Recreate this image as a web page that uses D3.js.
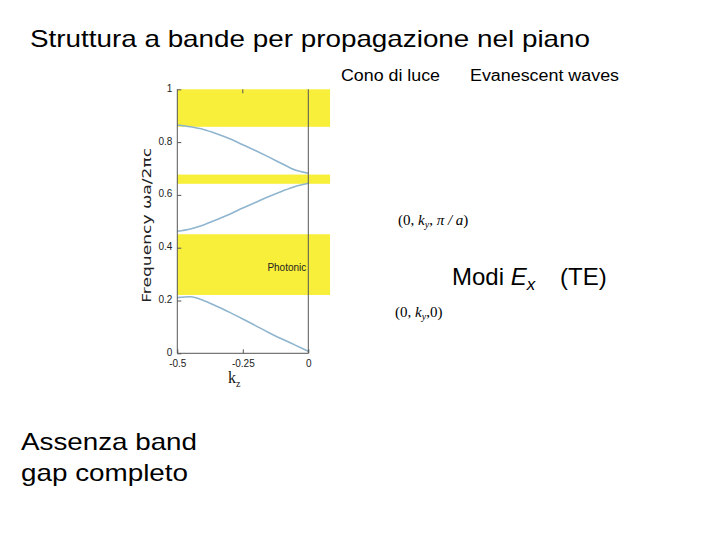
<!DOCTYPE html>
<html><head><meta charset="utf-8">
<script src="https://cdn.jsdelivr.net/npm/d3@7"></script>
<style>body{margin:0;background:#fff}svg{display:block}</style>
</head><body>
<svg id="c" width="720" height="540"></svg>
<script>
// ---- data ----
const kz = [-0.5,-0.45,-0.4,-0.35,-0.3,-0.25,-0.2,-0.15,-0.1,-0.05,0];
const band1 = [0.211,0.214,0.200,0.178,0.155,0.130,0.104,0.078,0.054,0.031,0.008];
const band2 = [0.462,0.471,0.486,0.506,0.527,0.550,0.572,0.594,0.614,0.632,0.644];
const band3 = [0.865,0.858,0.848,0.832,0.813,0.790,0.767,0.743,0.718,0.694,0.682];
const gapLow = [0.858,0.642,0.221];
const gapHigh = [1.0,0.677,0.451];
const gapKEnd = 0.083;
const yTicks = [0,0.2,0.4,0.6,0.8,1];
const yTickLabels = ["0","0.2","0.4","0.6","0.8","1"];
const xTicks = [-0.5,-0.25,0];
const xTickLabels = ["-0.5","-0.25","0"];

const svg = d3.select("#c");
const x = d3.scaleLinear().domain([-0.5,0]).range([177.3,308.3]);
const y = d3.scaleLinear().domain([0,1]).range([353.3,89.3]);

// yellow regions
svg.selectAll("rect.gap").data(gapLow).join("rect")
  .attr("class","gap")
  .attr("x", x(-0.5)).attr("width", x(gapKEnd)-x(-0.5))
  .attr("y",(d,i)=>y(gapHigh[i])).attr("height",(d,i)=>y(d)-y(gapHigh[i]))
  .attr("fill","#f7ef3a");

// curves
const line = d3.line().x((d,i)=>x(kz[i])).y(d=>y(d)).curve(d3.curveMonotoneX);
[band1,band2,band3].forEach(b=>{
  svg.append("path").attr("d",line(b)).attr("fill","none")
    .attr("stroke","#8fb5cf").attr("stroke-width",1.6);
});

// frame
const fr = svg.append("g").attr("stroke","#555").attr("stroke-width",1).attr("fill","none");
fr.append("line").attr("x1",x(-0.5)).attr("x2",x(-0.5)).attr("y1",y(1)).attr("y2",y(0));
fr.append("line").attr("x1",x(-0.5)).attr("x2",x(0)).attr("y1",y(0)).attr("y2",y(0));
fr.append("line").attr("x1",x(0)).attr("x2",x(0)).attr("y1",y(1)).attr("y2",y(0));

const tickFont = "'Liberation Sans Narrow','Liberation Sans',sans-serif";
// axes via d3
const yAxis = d3.axisLeft(y).tickValues(yTicks).tickFormat((d,i)=>yTickLabels[i]).tickSizeInner(-4).tickSizeOuter(0).tickPadding(5);
const gy = svg.append("g").attr("transform",`translate(${x(-0.5)},0)`).call(yAxis);
gy.select(".domain").remove();
gy.selectAll("line").attr("stroke","#555");
gy.selectAll("text").attr("font-family",tickFont).attr("font-size",10).attr("fill","#222").attr("dy","0.2em");

const xAxis = d3.axisBottom(x).tickValues(xTicks).tickFormat((d,i)=>xTickLabels[i]).tickSizeInner(-4).tickSizeOuter(0).tickPadding(7);
const gx = svg.append("g").attr("transform",`translate(0,${y(0)})`).call(xAxis);
gx.select(".domain").remove();
gx.selectAll("line").attr("stroke","#555");
gx.selectAll("text").attr("font-family",tickFont).attr("font-size",10).attr("fill","#222");
// top tick
svg.append("line").attr("x1",x(-0.25)).attr("x2",x(-0.25)).attr("y1",y(1)).attr("y2",y(1)+4).attr("stroke","#555");

// y label
svg.append("text").attr("transform",`translate(151,${(y(0)+y(1))/2+4}) rotate(-90)`)
  .attr("text-anchor","middle").attr("font-family","'DejaVu Sans',sans-serif").attr("font-size",13)
  .attr("fill","#222").attr("textLength",155).attr("lengthAdjust","spacingAndGlyphs")
  .text("Frequency  \u03c9a/2\u03c0c");

svg.append("text").attr("x",x(0)-2).attr("y",y(0.31)).attr("text-anchor","end")
  .attr("font-family",tickFont).attr("font-size",10).attr("fill","#222").text("Photonic");

// k_z
const kt = svg.append("text").attr("x",228).attr("y",383).attr("font-family","'Liberation Serif',serif").attr("font-size",16).attr("fill","#111");
kt.append("tspan").text("k");
kt.append("tspan").attr("font-size",10).attr("dy",4).text("z");

// texts
const sans = "'Liberation Sans',Arial,sans-serif";
svg.append("text").attr("x",30).attr("y",47).attr("font-family",sans).attr("font-size",24)
  .attr("textLength",560).attr("lengthAdjust","spacingAndGlyphs").attr("fill","#000")
  .text("Struttura a bande per propagazione nel piano");
svg.append("text").attr("x",341).attr("y",81).attr("font-family",sans).attr("font-size",16)
  .attr("textLength",99).attr("lengthAdjust","spacingAndGlyphs").text("Cono di luce");
svg.append("text").attr("x",470).attr("y",81).attr("font-family",sans).attr("font-size",16)
  .attr("textLength",149).attr("lengthAdjust","spacingAndGlyphs").text("Evanescent waves");

const m = svg.append("text").attr("x",452).attr("y",285).attr("font-family",sans).attr("font-size",24);
m.append("tspan").text("Modi ");
m.append("tspan").attr("font-style","italic").text("E");
m.append("tspan").attr("font-style","italic").attr("font-size",17).attr("dy",5).text("x");
m.append("tspan").attr("dy",-5).attr("x",560).text("(TE)");

const serif = "'Liberation Serif','Times New Roman',serif";
const p1 = svg.append("text").attr("x",398).attr("y",225).attr("font-family",serif).attr("font-size",15);
p1.append("tspan").text("(0, ");
p1.append("tspan").attr("font-style","italic").text("k");
p1.append("tspan").attr("font-style","italic").attr("font-size",10).attr("dy",3).text("y");
p1.append("tspan").attr("dy",-3).text(", ");
p1.append("tspan").attr("font-style","italic").text("\u03c0 / a");
p1.append("tspan").text(")");

const p2 = svg.append("text").attr("x",395).attr("y",317).attr("font-family",serif).attr("font-size",15);
p2.append("tspan").text("(0, ");
p2.append("tspan").attr("font-style","italic").text("k");
p2.append("tspan").attr("font-style","italic").attr("font-size",10).attr("dy",3).text("y");
p2.append("tspan").attr("dy",-3).text(",0)");

svg.append("text").attr("x",21).attr("y",450).attr("font-family",sans).attr("font-size",24)
  .attr("textLength",176).attr("lengthAdjust","spacingAndGlyphs").text("Assenza band");
svg.append("text").attr("x",21).attr("y",481).attr("font-family",sans).attr("font-size",24)
  .attr("textLength",167).attr("lengthAdjust","spacingAndGlyphs").text("gap completo");
</script>
</body></html>
